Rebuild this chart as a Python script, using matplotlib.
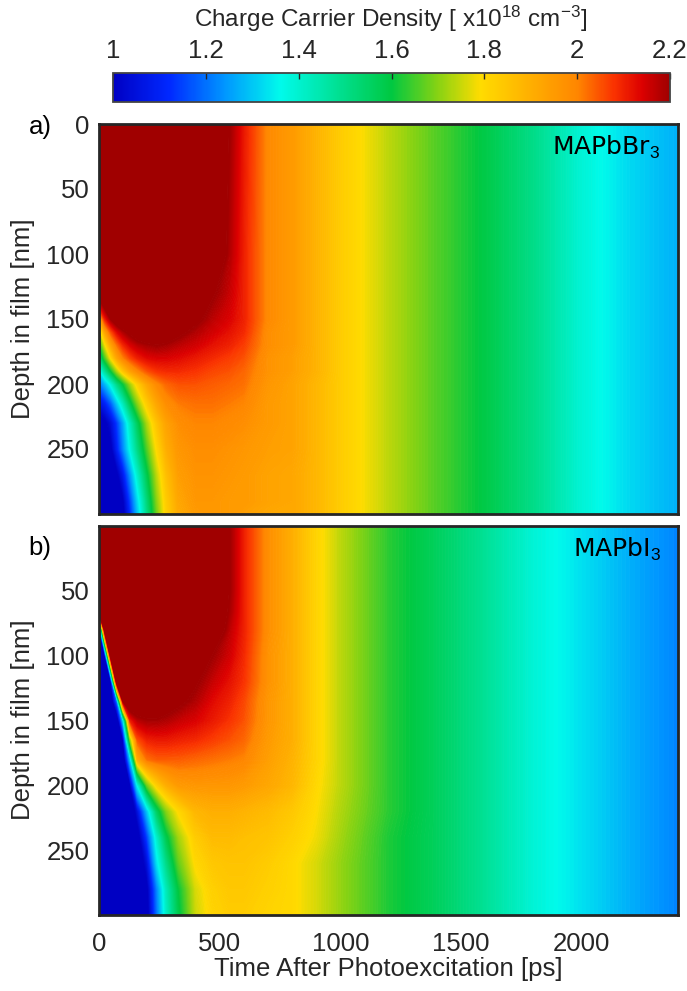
import numpy as np
import matplotlib
matplotlib.use('Agg')
import matplotlib as mpl
import matplotlib.pyplot as plt
from matplotlib.colors import LinearSegmentedColormap, Normalize

# time axis shared by both films [ps]
time_ps = [0, 25, 50, 75, 100, 130, 160, 200, 240, 280, 330, 400, 470, 540, 600, 700,
           800, 900, 1000, 1200, 1400, 1600, 1800, 2000, 2200, 2400]

# MAPbBr3: carrier density [1e18 cm^-3], one row per depth
depth_br = [0, 100, 130, 140, 150, 160, 170, 180, 190, 200, 215, 230, 250, 270, 290, 300]
density_br = [
    [2.3, 2.3, 2.3, 2.3, 2.3, 2.3, 2.3, 2.3, 2.3, 2.3, 2.3, 2.3, 2.3, 2.2, 2.11, 1.99, 1.95, 1.89, 1.83, 1.74, 1.66, 1.59, 1.50, 1.39, 1.32, 1.27],
    [2.3, 2.3, 2.3, 2.3, 2.3, 2.3, 2.3, 2.3, 2.3, 2.3, 2.3, 2.3, 2.3, 2.18, 2.1, 1.99, 1.95, 1.89, 1.83, 1.74, 1.66, 1.59, 1.50, 1.39, 1.32, 1.27],
    [2.25, 2.3, 2.3, 2.3, 2.3, 2.3, 2.3, 2.3, 2.3, 2.3, 2.3, 2.3, 2.21, 2.16, 2.1, 1.99, 1.95, 1.89, 1.83, 1.74, 1.66, 1.59, 1.50, 1.39, 1.32, 1.27],
    [2.12, 2.22, 2.3, 2.3, 2.3, 2.3, 2.3, 2.3, 2.3, 2.3, 2.3, 2.24, 2.19, 2.15, 2.1, 1.99, 1.95, 1.89, 1.83, 1.74, 1.66, 1.59, 1.50, 1.39, 1.32, 1.27],
    [1.9, 2.1, 2.2, 2.26, 2.3, 2.3, 2.3, 2.3, 2.3, 2.3, 2.28, 2.22, 2.17, 2.14, 2.1, 1.99, 1.95, 1.89, 1.83, 1.74, 1.66, 1.59, 1.50, 1.39, 1.32, 1.27],
    [1.72, 1.92, 2.05, 2.13, 2.18, 2.22, 2.26, 2.28, 2.28, 2.26, 2.22, 2.18, 2.15, 2.12, 2.09, 1.98, 1.95, 1.89, 1.83, 1.74, 1.66, 1.59, 1.50, 1.39, 1.32, 1.27],
    [1.6, 1.78, 1.92, 2.02, 2.09, 2.14, 2.17, 2.19, 2.2, 2.19, 2.17, 2.15, 2.12, 2.1, 2.07, 1.98, 1.95, 1.89, 1.83, 1.74, 1.66, 1.59, 1.50, 1.39, 1.32, 1.27],
    [1.5, 1.65, 1.8, 1.92, 2.0, 2.06, 2.1, 2.13, 2.14, 2.14, 2.13, 2.11, 2.09, 2.07, 2.05, 1.97, 1.94, 1.89, 1.83, 1.74, 1.66, 1.59, 1.50, 1.39, 1.32, 1.27],
    [1.33, 1.47, 1.6, 1.73, 1.84, 1.93, 1.99, 2.05, 2.08, 2.09, 2.09, 2.08, 2.06, 2.05, 2.03, 1.97, 1.94, 1.89, 1.83, 1.74, 1.66, 1.59, 1.50, 1.39, 1.32, 1.27],
    [1.2, 1.28, 1.38, 1.5, 1.6, 1.72, 1.82, 1.92, 1.99, 2.03, 2.05, 2.05, 2.04, 2.03, 2.02, 1.96, 1.93, 1.88, 1.83, 1.74, 1.66, 1.59, 1.50, 1.39, 1.32, 1.27],
    [1.05, 1.1, 1.18, 1.3, 1.42, 1.57, 1.7, 1.83, 1.92, 1.98, 2.01, 2.02, 2.02, 2.01, 2.0, 1.95, 1.93, 1.88, 1.83, 1.74, 1.66, 1.59, 1.50, 1.39, 1.32, 1.27],
    [0.95, 0.98, 1.04, 1.14, 1.26, 1.42, 1.56, 1.73, 1.85, 1.93, 1.98, 2.0, 2.0, 1.99, 1.98, 1.95, 1.93, 1.88, 1.83, 1.74, 1.66, 1.59, 1.50, 1.39, 1.32, 1.27],
    [0.9, 0.93, 0.98, 1.1, 1.22, 1.37, 1.5, 1.66, 1.8, 1.9, 1.96, 1.98, 1.98, 1.97, 1.96, 1.94, 1.93, 1.88, 1.83, 1.74, 1.66, 1.59, 1.50, 1.39, 1.32, 1.27],
    [0.9, 0.9, 0.93, 0.98, 1.08, 1.24, 1.4, 1.58, 1.74, 1.86, 1.94, 1.97, 1.97, 1.96, 1.95, 1.93, 1.92, 1.88, 1.83, 1.74, 1.66, 1.59, 1.50, 1.39, 1.32, 1.27],
    [0.9, 0.9, 0.9, 0.93, 0.99, 1.15, 1.32, 1.52, 1.7, 1.83, 1.92, 1.96, 1.96, 1.95, 1.95, 1.93, 1.92, 1.88, 1.83, 1.74, 1.66, 1.59, 1.50, 1.39, 1.32, 1.27],
    [0.9, 0.9, 0.9, 0.92, 0.97, 1.12, 1.29, 1.5, 1.68, 1.82, 1.91, 1.95, 1.96, 1.95, 1.94, 1.92, 1.92, 1.88, 1.83, 1.74, 1.66, 1.59, 1.50, 1.39, 1.32, 1.27],
]

# MAPbI3
depth_i = [0, 50, 66, 80, 100, 120, 135, 150, 165, 180, 200, 220, 240, 260, 280, 300]
density_i = [
    [2.3, 2.3, 2.3, 2.3, 2.3, 2.3, 2.3, 2.3, 2.3, 2.3, 2.3, 2.3, 2.3, 2.2, 2.1, 1.98, 1.9, 1.81, 1.74, 1.63, 1.56, 1.48, 1.39, 1.33, 1.27, 1.22],
    [2.3, 2.3, 2.3, 2.3, 2.3, 2.3, 2.3, 2.3, 2.3, 2.3, 2.3, 2.3, 2.3, 2.2, 2.1, 1.98, 1.9, 1.81, 1.74, 1.63, 1.56, 1.48, 1.39, 1.33, 1.27, 1.22],
    [2.2, 2.3, 2.3, 2.3, 2.3, 2.3, 2.3, 2.3, 2.3, 2.3, 2.3, 2.3, 2.3, 2.19, 2.1, 1.98, 1.9, 1.81, 1.74, 1.63, 1.56, 1.48, 1.39, 1.33, 1.27, 1.22],
    [0.9, 2.3, 2.3, 2.3, 2.3, 2.3, 2.3, 2.3, 2.3, 2.3, 2.3, 2.3, 2.28, 2.17, 2.1, 1.98, 1.9, 1.81, 1.74, 1.63, 1.56, 1.48, 1.39, 1.33, 1.27, 1.22],
    [0.9, 1.0, 2.3, 2.3, 2.3, 2.3, 2.3, 2.3, 2.3, 2.3, 2.3, 2.27, 2.2, 2.15, 2.09, 1.97, 1.9, 1.81, 1.74, 1.63, 1.56, 1.48, 1.39, 1.33, 1.27, 1.22],
    [0.9, 0.9, 1.0, 2.3, 2.3, 2.3, 2.3, 2.3, 2.3, 2.3, 2.27, 2.21, 2.16, 2.12, 2.08, 1.97, 1.9, 1.81, 1.74, 1.63, 1.56, 1.48, 1.39, 1.33, 1.27, 1.22],
    [0.9, 0.9, 0.9, 1.2, 2.2, 2.3, 2.3, 2.3, 2.3, 2.25, 2.22, 2.18, 2.13, 2.1, 2.06, 1.96, 1.9, 1.81, 1.74, 1.63, 1.56, 1.48, 1.39, 1.33, 1.27, 1.22],
    [0.9, 0.9, 0.9, 0.9, 1.3, 2.1, 2.17, 2.19, 2.19, 2.18, 2.16, 2.14, 2.11, 2.08, 2.05, 1.96, 1.9, 1.81, 1.74, 1.63, 1.56, 1.48, 1.39, 1.33, 1.27, 1.22],
    [0.9, 0.9, 0.9, 0.9, 1.0, 1.7, 2.05, 2.1, 2.11, 2.11, 2.1, 2.09, 2.07, 2.05, 2.03, 1.95, 1.9, 1.81, 1.74, 1.63, 1.56, 1.48, 1.39, 1.33, 1.27, 1.22],
    [0.9, 0.9, 0.9, 0.9, 0.9, 1.3, 1.9, 2.02, 2.04, 2.04, 2.04, 2.03, 2.02, 2.01, 2.0, 1.94, 1.89, 1.81, 1.74, 1.63, 1.56, 1.48, 1.39, 1.33, 1.27, 1.22],
    [0.9, 0.9, 0.9, 0.9, 0.9, 1.0, 1.36, 1.68, 1.82, 1.9, 1.95, 1.96, 1.96, 1.96, 1.95, 1.92, 1.88, 1.8, 1.74, 1.63, 1.56, 1.48, 1.39, 1.33, 1.27, 1.22],
    [0.9, 0.9, 0.9, 0.9, 0.9, 0.9, 1.05, 1.3, 1.55, 1.7, 1.8, 1.88, 1.9, 1.9, 1.89, 1.87, 1.84, 1.79, 1.73, 1.63, 1.56, 1.48, 1.39, 1.33, 1.27, 1.22],
    [0.9, 0.9, 0.9, 0.9, 0.9, 0.9, 0.95, 1.15, 1.4, 1.58, 1.72, 1.83, 1.87, 1.87, 1.86, 1.85, 1.82, 1.78, 1.72, 1.62, 1.56, 1.48, 1.39, 1.33, 1.27, 1.22],
    [0.9, 0.9, 0.9, 0.9, 0.9, 0.9, 0.9, 1.05, 1.33, 1.5, 1.67, 1.8, 1.84, 1.85, 1.85, 1.83, 1.8, 1.76, 1.71, 1.62, 1.56, 1.48, 1.39, 1.33, 1.27, 1.22],
    [0.9, 0.9, 0.9, 0.9, 0.9, 0.9, 0.9, 0.98, 1.22, 1.43, 1.6, 1.76, 1.82, 1.84, 1.84, 1.82, 1.8, 1.76, 1.71, 1.62, 1.56, 1.48, 1.39, 1.33, 1.27, 1.22],
    [0.9, 0.9, 0.9, 0.9, 0.9, 0.9, 0.9, 0.96, 1.2, 1.41, 1.58, 1.75, 1.81, 1.83, 1.83, 1.81, 1.8, 1.76, 1.71, 1.62, 1.56, 1.48, 1.39, 1.33, 1.27, 1.22],
]

cbar_ticks = [1, 1.2, 1.4, 1.6, 1.8, 2, 2.2]
cbar_ticklabels = ['1', '1.2', '1.4', '1.6', '1.8', '2', '2.2']
time_ticks = [0, 500, 1000, 1500, 2000]
depth_ticks_br = [0, 50, 100, 150, 200, 250]
depth_ticks_i = [50, 100, 150, 200, 250]


def plot_density():
    plt.rcParams['font.family'] = 'Liberation Sans'
    plt.rcParams['mathtext.fontset'] = 'custom'
    plt.rcParams['mathtext.rm'] = 'Liberation Sans'
    plt.rcParams['mathtext.it'] = 'Liberation Sans:italic'
    plt.rcParams['mathtext.bf'] = 'Liberation Sans:bold'

    # jet-like map, darker blue at the low end
    cmap = LinearSegmentedColormap.from_list('carrier', [
        (0.00, '#0000c3'), (0.10, '#0028ff'), (0.20, '#0096ff'), (0.30, '#00faeb'),
        (0.40, '#00e196'), (0.50, '#00c841'), (0.58, '#82d214'), (0.66, '#ffdc00'),
        (0.75, '#ffaf00'), (0.833, '#ff8700'), (0.90, '#fa3200'), (0.95, '#dc0000'),
        (1.00, '#9e0000')], N=512).with_extremes(over='#a00000', under='#0000c3')
    norm = Normalize(vmin=1., vmax=2.2)
    levels = np.linspace(1., 2.2, 241)

    fig = plt.figure(figsize=(6.87, 9.91), dpi=100)
    W, H = 687., 991.
    ax1 = fig.add_axes([99/W, 1-514/H, 579/W, 390/H])
    ax2 = fig.add_axes([99/W, 1-915/H, 579/W, 389/H])
    cax = fig.add_axes([113/W, 1-102/H, 557/W, 29/H])

    panels = [(ax1, depth_br, density_br, depth_ticks_br, r'MAPbBr$_3$', 'a)', 0.992),
              (ax2, depth_i, density_i, depth_ticks_i, r'MAPbI$_3$', 'b)', 0.943)]
    for ax, depth, dens, yticks, name, tag, tag_y in panels:
        cs = ax.contourf(time_ps, depth, np.array(dens), levels=levels, cmap=cmap, norm=norm,
                         extend='both', antialiased=True)
        # fill the hairline gaps between neighbouring bands
        cs.set_edgecolor('face')
        cs.set_linewidth(0.6)
        ax.set_xlim(0, 2400)
        ax.set_ylim(300, 0)
        ax.set_yticks(yticks)
        ax.tick_params(axis='y', length=0, pad=7, labelsize=18.5, colors='#262626')
        ax.tick_params(axis='x', length=0, pad=12, labelsize=18.5, colors='#262626')
        for sp in ax.spines.values():
            sp.set_linewidth(2.0)
            sp.set_color('#262626')
            sp.set_zorder(5)
        ax.text(0.97, 0.92, name, transform=ax.transAxes, ha='right', va='baseline',
                fontsize=18, family='DejaVu Sans', color='black')
        ax.text(-0.102, tag_y, tag, transform=ax.transAxes, ha='center', va='center',
                fontsize=18.5, color='black')

    ax1.set_xticks([])
    ax2.set_xticks(time_ticks)

    fig.text(23/W, 1-319/H, 'Depth in film [nm]', rotation=90, ha='center', va='center',
             fontsize=18.5, color='#262626')
    fig.text(23/W, 1-720/H, 'Depth in film [nm]', rotation=90, ha='center', va='center',
             fontsize=18.5, color='#262626')
    fig.text(388/W, 1-969/H, 'Time After Photoexcitation [ps]', ha='center', va='center',
             fontsize=18.5, color='#262626')

    cb = fig.colorbar(mpl.cm.ScalarMappable(norm=norm, cmap=cmap), cax=cax,
                      orientation='horizontal', ticks=cbar_ticks)
    cb.ax.set_xticklabels(cbar_ticklabels)
    cb.ax.xaxis.set_ticks_position('top')
    cb.ax.tick_params(direction='in', length=4, width=1, pad=7.5, labelsize=18.5,
                      colors='#262626')
    cb.outline.set_linewidth(1.3)
    cb.outline.set_edgecolor('#444444')
    fig.text(391/W, 1-19/H, r'Charge Carrier Density [ x10$^{18}$ cm$^{-3}$]',
             ha='center', va='center', fontsize=17.5, color='#262626')

    plt.savefig('out.png', dpi=100)


if __name__ == '__main__':
    plot_density()
